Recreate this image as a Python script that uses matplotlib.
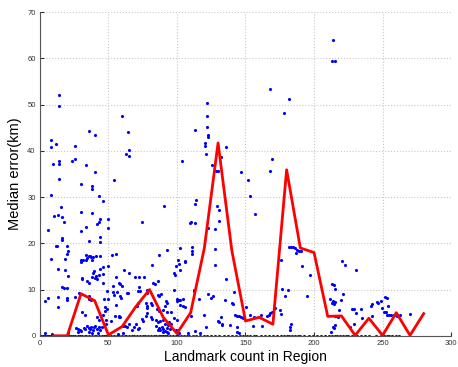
import matplotlib
matplotlib.use("Agg")
import matplotlib.pyplot as plt

plt.rcParams['font.family'] = ['Liberation Sans', 'DejaVu Sans']

# --- per-region points (landmark count, median error km) ---
high_x = [13.9, 13.9, 7.8, 7.8, 11.7, 9.7, 13.9, 13.9, 13.9, 35.8, 39.9, 25.8, 23.8, 25.8,
          33.8, 39.9, 29.7, 38.0, 54.0, 60.1, 64.0, 62.8, 65.0, 65.0, 103.9, 112.9, 121.9,
          121.9, 121.9, 122.9, 122.9, 120.7, 120.4, 120.9, 125.8, 128.7, 129.7, 131.9, 136.0,
          214.1, 212.9, 215.1, 167.9, 182.0, 178.3, 169.1, 167.9, 146.9, 152.1, 153.0, 156.9,
          113.9, 112.9, 129.0, 130.9, 130.9, 110.2, 112.9, 122.9]
high_y = [52.0, 49.7, 42.3, 40.9, 41.5, 37.1, 37.9, 37.2, 34.0, 44.2, 43.5, 41.1, 37.7, 38.3,
          36.9, 35.4, 32.8, 32.3, 33.7, 47.5, 44.1, 39.4, 40.2, 38.8, 37.9, 44.6, 50.3,
          47.6, 45.1, 43.4, 42.9, 41.6, 41.1, 39.3, 36.9, 35.6, 35.6, 38.7, 40.8,
          64.0, 59.5, 59.5, 53.3, 51.3, 48.1, 38.2, 35.7, 35.4, 33.8, 30.2, 26.4,
          29.4, 28.5, 28.1, 27.2, 24.9, 24.6, 24.4, 23.3]

mid_x = [7.8, 6.1, 10.0, 13.6, 15.8, 15.6, 17.7, 15.8, 15.8, 29.7, 30.1, 37.7, 38.2, 33.8,
         36.0, 43.3, 45.8, 43.8, 43.1, 41.8, 43.8, 43.8, 49.6, 49.6, 74.7, 90.7, 109.7, 128.0,
         7.8, 12.2, 13.6, 18.0, 19.5, 19.9, 20.2, 15.8, 17.5, 19.5, 18.0, 20.2, 11.9, 29.7,
         29.9, 31.6, 33.8, 33.6, 34.5, 35.5, 36.8, 37.5, 38.0, 39.0, 34.5, 37.7, 38.9, 41.1,
         43.8, 39.4, 40.9, 42.8, 44.0, 46.2, 49.4, 46.0, 52.3, 55.7, 55.7, 53.1, 57.7, 59.9,
         61.3, 64.7, 69.1, 72.3, 75.9, 81.8, 92.7, 99.0, 101.5, 102.2, 102.2, 98.5, 105.8,
         111.2, 111.2, 128.0, 128.0, 136.0, 31.0, 30.5, 40.0, 42.0, 36.0, 46.0, 86.9, 86.0,
         82.9, 84.0, 110.7, 106.0, 101.0, 98.0, 112.6, 175.9, 182.0, 183.5, 185.0, 186.0,
         187.5, 189.0, 190.5, 187.0, 191.5, 197.0, 176.9, 181.0, 220.3, 222.5, 230.3, 213.0,
         214.5, 215.0, 58.8, 72.1]
mid_y = [30.5, 22.8, 26.0, 26.2, 25.8, 27.8, 24.6, 21.2, 20.8, 26.8, 22.7, 31.7, 26.5, 23.6,
         20.6, 30.2, 29.1, 25.3, 24.6, 24.1, 21.3, 20.2, 25.2, 23.4, 24.7, 28.1, 24.5, 23.0,
         16.7, 19.4, 14.4, 16.6, 17.6, 19.4, 18.4, 10.6, 10.3, 10.3, 14.3, 13.0, 19.4, 16.3,
         16.0, 16.4, 17.5, 16.4, 16.8, 17.2, 17.3, 17.0, 16.5, 17.0, 11.8, 12.8, 13.5, 17.3,
         17.3, 14.0, 13.0, 13.1, 14.4, 14.9, 15.1, 11.4, 17.5, 17.7, 12.7, 10.8, 11.4, 10.8,
         14.3, 13.6, 12.7, 12.7, 12.7, 15.3, 18.6, 15.0, 15.5, 18.9, 14.2, 13.2, 16.2,
         19.3, 18.4, 18.8, 15.3, 12.2, 12.6, 12.2, 12.6, 12.2, 11.4, 13.4, 17.5, 11.9,
         11.5, 11.3, 17.6, 16.0, 16.5, 13.5, 10.0, 16.4, 19.3, 19.2, 19.1, 18.9,
         18.6, 18.3, 18.4, 18.0, 15.0, 13.2, 10.2, 9.9, 16.2, 15.3, 14.3, 11.2,
         10.9, 10.1, 11.3, 10.6]

low_x = [4.1, 5.6, 13.6, 19.7, 13.6, 26.0, 28.7, 36.0, 36.0, 37.5, 20.0, 46.9, 55.7, 53.1,
         48.7, 49.9, 47.4, 47.4, 48.7, 51.6, 47.9, 48.0, 55.0, 57.7, 54.0, 56.0, 58.5, 59.5,
         57.7, 58.5, 63.6, 64.5, 61.0, 62.0, 63.5, 71.5, 73.0, 71.7, 71.0, 77.9, 77.9, 77.5,
         78.0, 77.5, 78.0, 78.0, 74.5, 75.5, 71.5, 72.5, 86.5, 87.0, 88.5, 81.3, 82.0, 85.5,
         87.0, 81.0, 82.0, 84.5, 86.5, 88.0, 90.0, 91.0, 89.0, 87.0, 90.0, 92.5, 93.5, 95.0,
         92.5, 93.5, 91.0, 89.5, 88.0, 86.0, 85.0, 94.5, 96.0, 92.0, 93.0, 92.5, 91.5, 90.0,
         96.0, 97.8, 97.6, 100.0, 101.5, 102.5, 100.0, 102.5, 104.5, 106.0, 104.5, 112.6,
         115.8, 110.0, 120.0, 121.0, 100.0, 99.5, 122.9, 124.6, 126.0, 131.9, 132.8, 135.3,
         138.9, 140.1, 142.1, 144.0, 141.3, 140.6, 133.0, 131.0, 130.0, 145.0, 146.5, 148.0,
         144.0, 144.0, 145.0, 150.6, 153.0, 156.0, 161.6, 162.4, 155.6, 175.2, 175.9, 171.5,
         169.0, 168.0, 167.0, 166.0, 178.8, 195.1, 182.8, 182.5, 183.4, 214.0, 215.5, 214.5,
         213.0, 212.0, 221.0, 220.0, 218.2, 215.0, 216.5, 217.5, 215.5, 213.5, 214.5, 212.5,
         229.0, 228.0, 230.3, 233.9, 234.9, 229.0, 226.0, 242.1, 242.6, 241.5, 246.0, 246.5,
         248.7, 249.5, 252.0, 253.0, 254.0, 251.0, 252.5, 253.0, 254.5, 256.5, 258.5, 260.5,
         263.0, 269.7, 28.0, 29.0, 30.0, 32.0, 33.0, 34.5, 35.5, 36.5, 37.5, 38.5, 39.5, 40.5,
         41.5, 43.0, 45.0, 44.0, 36.0, 38.0, 26.5, 27.5, 42.5, 4.0, 9.0, 20.5, 46.0, 43.0,
         42.0, 31.0, 33.0, 65.0, 67.0, 68.5, 70.0, 60.5, 57.0, 101.5, 108.0, 113.0, 117.0]
low_y = [7.6, 8.2, 6.2, 8.1, 8.4, 8.3, 9.2, 8.5, 8.0, 7.7, 7.8, 8.0, 6.7, 9.5,
         9.6, 7.9, 6.3, 5.3, 5.9, 3.3, 3.5, 2.6, 4.2, 4.0, 8.9, 9.4, 8.5, 8.2,
         4.2, 4.0, 9.2, 9.3, 2.1, 2.2, 1.8, 9.7, 9.6, 7.0, 6.5, 6.5, 6.0, 7.0,
         5.0, 4.2, 9.8, 9.3, 3.6, 3.2, 1.5, 1.6, 8.8, 8.7, 9.0, 7.1, 6.7, 5.9,
         5.3, 4.0, 3.7, 3.5, 3.0, 3.2, 3.5, 2.5, 2.0, 1.7, 1.5, 1.7, 2.3, 1.5,
         0.9, 0.6, 1.0, 0.8, 1.2, 1.3, 2.2, 3.0, 2.5, 7.5, 7.0, 5.2, 6.5, 5.6,
         5.1, 3.8, 9.9, 8.0, 7.8, 7.8, 7.5, 6.6, 6.4, 6.2, 8.0, 9.6,
         7.9, 4.3, 4.5, 1.8, 3.4, 1.3, 9.1, 8.1, 8.6, 4.0, 2.4, 7.8,
         2.4, 7.0, 4.5, 4.3, 9.5, 6.9, 2.5, 2.9, 3.3, 4.3, 4.0, 3.8,
         1.8, 0.9, 0.5, 6.2, 4.5, 4.0, 4.5, 2.2, 2.2, 5.6, 4.8, 6.1,
         5.2, 4.9, 4.6, 4.2, 8.6, 8.5, 1.8, 1.2, 2.6, 7.5, 7.4, 6.9,
         7.0, 8.0, 9.0, 7.8, 5.6, 4.2, 4.3, 4.1, 2.3, 2.0, 1.6, 0.8,
         5.9, 5.7, 4.9, 5.8, 3.8, 2.5, 1.8, 4.2, 6.9, 6.5, 7.4, 7.1,
         7.5, 6.0, 8.3, 8.2, 6.5, 5.2, 5.1, 4.6, 4.5, 4.5, 4.4, 4.3,
         4.4, 4.7, 1.5, 1.2, 1.0, 1.7, 1.5, 2.2, 1.6, 1.4, 1.9, 1.3, 2.0, 2.2,
         1.5, 1.8, 2.0, 1.2, 0.8, 0.6, 1.6, 0.9, 0.5, 0.5, 0.3, 0.5, 4.6, 3.5,
         4.0, 5.2, 4.6, 2.5, 1.2, 2.0, 2.6, 0.7, 0.4, 0.6, 0.5, 1.1, 0.7]

# regions with zero median error
zero_x = [0, 1, 2, 3, 4, 5, 6, 7, 8, 10, 11, 12, 14, 15, 17, 19, 21, 23, 24, 26, 28, 29, 31,
          33, 34, 36, 38, 40, 41, 43, 45, 47, 48, 50, 52, 54, 56, 58, 60, 62, 63, 65, 67, 69,
          71, 73, 75, 77, 79, 81, 83, 85, 87, 88, 89, 90, 91, 92, 93, 95, 97, 99, 101, 103,
          105, 107, 109, 112, 114, 117, 120, 122, 125, 128, 131, 134, 137, 140, 143, 146, 148,
          151, 153, 156, 158, 161, 164, 167, 170, 173, 176, 178, 180, 182, 184, 186, 188, 190,
          193, 196, 199, 202, 205, 208, 211, 213, 215, 217, 219, 221, 223, 225, 228, 231, 234,
          237, 240, 245, 249, 251, 253, 255, 257, 260, 262]

# binned median (red curve)
bin_count = [10, 20, 30, 40, 50, 60, 70, 80, 90, 100, 110, 120, 130, 140, 150, 160, 170,
             180, 190, 200, 210, 220, 230, 240, 250, 260, 270, 280]
bin_median = [0, 0, 9.1, 7.6, 0.2, 2.0, 6.3, 10.0, 4.0, 0.5, 5.0, 19.0, 41.7, 18.5, 3.2,
              4.0, 2.5, 35.9, 19.0, 18.0, 4.2, 4.3, 0.1, 3.8, 0.1, 5.0, 0.1, 4.8]

fig = plt.figure(figsize=(4.58, 3.67), dpi=100)
ax = fig.add_axes([0.087, 0.085, 0.898, 0.882])

ax.plot(high_x + mid_x + low_x, high_y + mid_y + low_y, '.', color='#0000ff', markersize=2.5)
ax.plot(zero_x, [0] * len(zero_x), '.', color='#0000ff', markersize=2.5)
ax.plot(bin_count, bin_median, '-', color='#ff0000', linewidth=2)

ax.set_xlim(0, 300)
ax.set_ylim(0, 70)
ax.set_xticks(range(0, 301, 50))
ax.set_yticks(range(0, 71, 10))
ax.grid(True, linestyle=':', color='#c8c8c8', linewidth=0.8)
ax.set_axisbelow(True)
for s in ['top', 'right']:
    ax.spines[s].set_visible(False)
for s in ['left', 'bottom']:
    ax.spines[s].set_color('#555555')
ax.tick_params(direction='in', length=3, labelsize=5.5, colors='#333333', pad=3)
ax.set_xlabel("Landmark count in Region", fontsize=10, labelpad=2)
ax.set_ylabel("Median error(km)", fontsize=10.5, labelpad=4)

fig.savefig("out.png", dpi=100)
